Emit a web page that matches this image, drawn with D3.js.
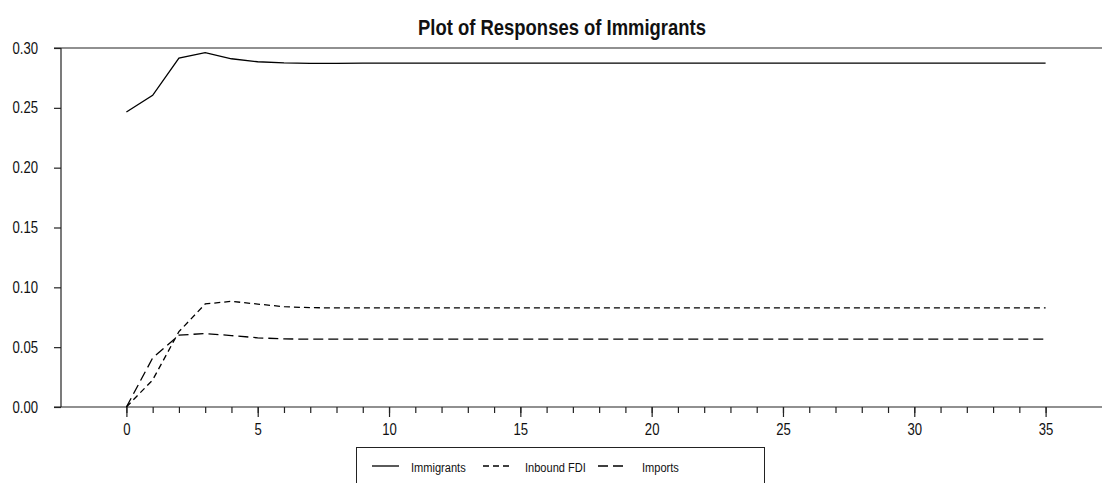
<!DOCTYPE html>
<html>
<head>
<meta charset="utf-8">
<script src="https://cdn.jsdelivr.net/npm/d3@7"></script>
<style>
  html, body { margin: 0; padding: 0; background: #fff; }
  svg { display: block; }
  text { font-family: "Liberation Sans", Arial, sans-serif; fill: #111; }
</style>
</head>
<body>
<svg id="chart" width="1102" height="483"></svg>
<script>
// Horizons 0..35
const steps = d3.range(0, 36);

// Response of Immigrants to each shock
const immigrants = [
  0.2465, 0.2605, 0.2915, 0.2962, 0.2910, 0.2885, 0.2875, 0.2872, 0.2872, 0.2873,
  0.2873, 0.2874, 0.2874, 0.2874, 0.2874, 0.2874, 0.2874, 0.2874, 0.2874, 0.2874,
  0.2874, 0.2874, 0.2874, 0.2874, 0.2874, 0.2874, 0.2874, 0.2874, 0.2874, 0.2874,
  0.2874, 0.2874, 0.2874, 0.2874, 0.2874, 0.2874
];
const inboundFDI = [
  0.0000, 0.0226, 0.0630, 0.0861, 0.0883, 0.0860, 0.0838, 0.0830, 0.0828, 0.0828,
  0.0828, 0.0828, 0.0828, 0.0828, 0.0828, 0.0828, 0.0828, 0.0828, 0.0828, 0.0828,
  0.0828, 0.0828, 0.0828, 0.0828, 0.0828, 0.0828, 0.0828, 0.0828, 0.0828, 0.0828,
  0.0828, 0.0828, 0.0828, 0.0828, 0.0828, 0.0828
];
const imports = [
  0.0000, 0.0410, 0.0600, 0.0614, 0.0597, 0.0578, 0.0569, 0.0567, 0.0567, 0.0567,
  0.0567, 0.0567, 0.0567, 0.0567, 0.0567, 0.0567, 0.0567, 0.0567, 0.0567, 0.0567,
  0.0567, 0.0567, 0.0567, 0.0567, 0.0567, 0.0567, 0.0567, 0.0567, 0.0567, 0.0567,
  0.0567, 0.0567, 0.0567, 0.0567, 0.0567, 0.0567
];

const seriesNames = ["Immigrants", "Inbound FDI", "Imports"];
const yTicks = [0.00, 0.05, 0.10, 0.15, 0.20, 0.25, 0.30];
const xMajorTicks = [0, 5, 10, 15, 20, 25, 30, 35];
const titleText = "Plot of Responses of Immigrants";

const SX = 0.82; // horizontal squeeze of the narrow lettering

const svg = d3.select("#chart");

const plotLeft = 61, plotRight = 1102, plotTop = 48, plotBottom = 407;
const x = d3.scaleLinear().domain([0, 35]).range([126.4, 1045.6]);
const y = d3.scaleLinear().domain([0, 0.30]).range([plotBottom, plotTop]);

// frame: top rule, left axis, bottom axis
svg.append("line").attr("x1", 54).attr("x2", plotRight).attr("y1", plotTop).attr("y2", plotTop)
  .attr("stroke", "#222").attr("stroke-width", 1.2);
svg.append("line").attr("x1", 54).attr("x2", plotRight).attr("y1", plotBottom).attr("y2", plotBottom)
  .attr("stroke", "#222").attr("stroke-width", 1.2);
svg.append("line").attr("x1", plotLeft).attr("x2", plotLeft).attr("y1", plotTop).attr("y2", plotBottom)
  .attr("stroke", "#222").attr("stroke-width", 1.2);

// squeeze the tick labels horizontally
function squeeze(sel) {
  sel.each(function () {
    const t = d3.select(this);
    const tx = +t.attr("x") || 0;
    const ty = +t.attr("y") || 0;
    t.attr("x", 0).attr("y", 0)
     .attr("transform", `translate(${tx},${ty}) scale(${SX},1)`);
  });
}

// y axis
const yAxis = svg.append("g").attr("transform", `translate(${plotLeft},0)`)
  .call(d3.axisLeft(y).tickValues(yTicks).tickSize(7).tickPadding(16)
    .tickFormat(d3.format(".2f")));
yAxis.select(".domain").remove();
yAxis.selectAll(".tick line").attr("stroke", "#222").attr("stroke-width", 1.2);
yAxis.selectAll(".tick text").attr("font-size", 16).attr("font-family", "Liberation Sans, Arial, sans-serif")
  .attr("fill", "#111").call(squeeze);

// x axis: minor ticks every step
const xMinor = svg.append("g").attr("transform", `translate(0,${plotBottom})`)
  .call(d3.axisBottom(x).tickValues(steps).tickSize(6).tickFormat(""));
xMinor.select(".domain").remove();
xMinor.selectAll(".tick line").attr("stroke", "#222").attr("stroke-width", 1.2);

// x axis: labelled major ticks
const xMajor = svg.append("g").attr("transform", `translate(0,${plotBottom})`)
  .call(d3.axisBottom(x).tickValues(xMajorTicks).tickSize(10).tickPadding(7));
xMajor.select(".domain").remove();
xMajor.selectAll(".tick line").attr("stroke", "#222").attr("stroke-width", 1.2);
xMajor.selectAll(".tick text").attr("font-size", 16).attr("font-family", "Liberation Sans, Arial, sans-serif")
  .attr("fill", "#111").call(squeeze);

// series
const lineGen = d3.line().x((d, i) => x(steps[i])).y(d => y(d));
const styles = [
  { data: immigrants, dash: null },
  { data: inboundFDI, dash: "6,4" },
  { data: imports, dash: "10,5" }
];
styles.forEach(s => {
  svg.append("path").datum(s.data)
    .attr("d", lineGen)
    .attr("fill", "none")
    .attr("stroke", "#000")
    .attr("stroke-width", 1.3)
    .attr("stroke-dasharray", s.dash);
});

// title
svg.append("text")
  .attr("transform", `translate(562,34.5) scale(${SX},1)`)
  .attr("text-anchor", "middle")
  .attr("font-size", 22.5)
  .attr("font-weight", "bold")
  .text(titleText);

// legend
const legend = svg.append("g");
legend.append("rect").attr("x", 356.5).attr("y", 447.5).attr("width", 408).attr("height", 60)
  .attr("fill", "none").attr("stroke", "#222").attr("stroke-width", 1);
const legendItems = [
  { name: seriesNames[0], dash: null, x0: 372, x1: 399, tx: 411 },
  { name: seriesNames[1], dash: "6,4", x0: 483, x1: 509, tx: 525 },
  { name: seriesNames[2], dash: "10,5", x0: 598, x1: 624, tx: 642 }
];
legendItems.forEach(it => {
  legend.append("line").attr("x1", it.x0).attr("x2", it.x1).attr("y1", 466).attr("y2", 466)
    .attr("stroke", "#000").attr("stroke-width", 1.3).attr("stroke-dasharray", it.dash);
  legend.append("text")
    .attr("transform", `translate(${it.tx},471.5) scale(${SX},1)`)
    .attr("font-size", 13.5)
    .text(it.name);
});
</script>
</body>
</html>
